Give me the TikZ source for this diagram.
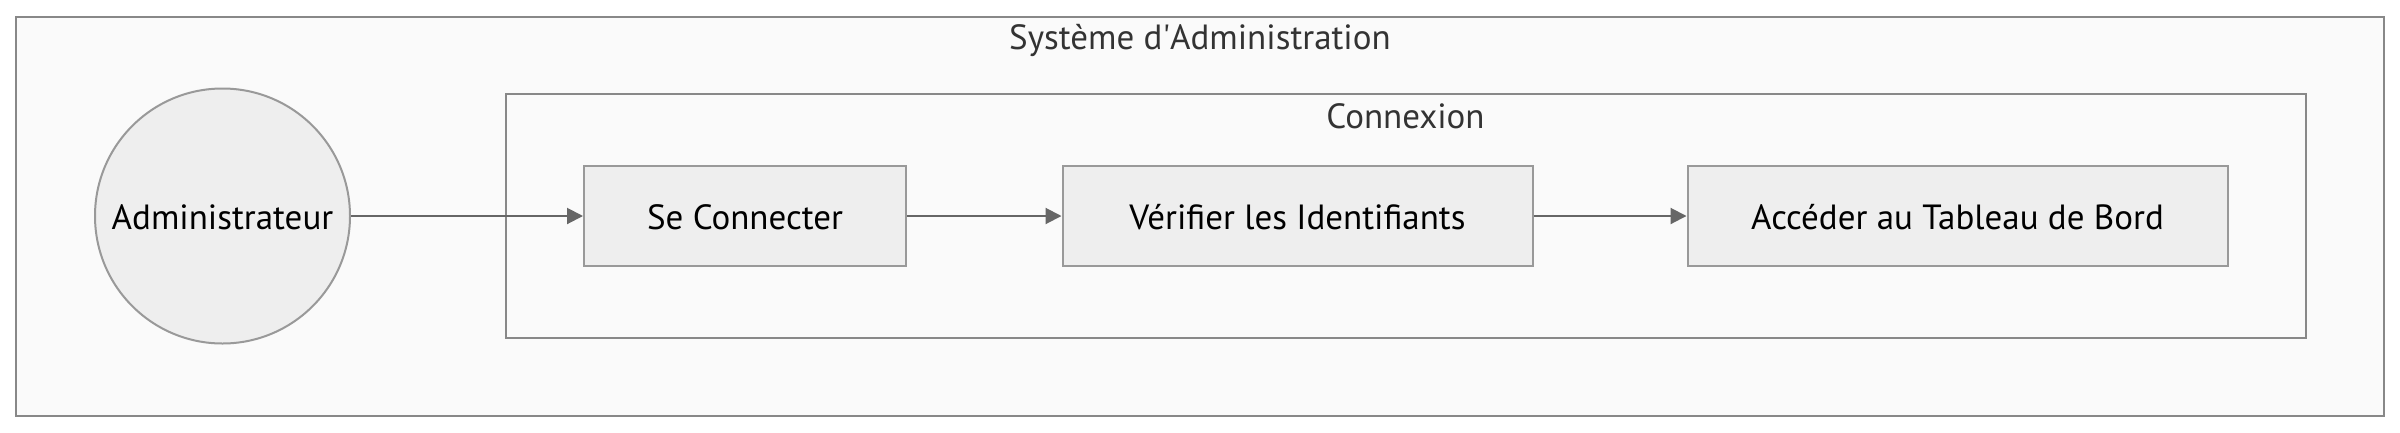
\documentclass[tikz,border=0pt]{standalone}
\usepackage{fontspec}
\setmainfont{PT Sans}
\usetikzlibrary{arrows.meta,shapes.geometric}
\definecolor{clfill}{HTML}{FAFAFA}
\definecolor{clstroke}{HTML}{888888}
\definecolor{ndfill}{HTML}{EEEEEE}
\definecolor{ndstroke}{HTML}{999999}
\definecolor{edge}{HTML}{666666}
\definecolor{ttl}{HTML}{333333}
\tikzset{
  txt/.style={font=\fontsize{35}{42}\selectfont},
  cluster/.style={draw=clstroke, fill=clfill, line width=2pt, rectangle, inner sep=0pt},
  clustertitle/.style={txt, text=ttl, inner sep=0pt, anchor=base},
  stepbox/.style={txt, draw=ndstroke, fill=ndfill, line width=2pt, rectangle, inner sep=0pt,
    minimum height=100pt, text height=26pt, text depth=0pt},
  actor/.style={txt, draw=ndstroke, fill=ndfill, line width=2pt, circle, inner sep=0pt,
    minimum size=255pt, text height=26pt, text depth=0pt},
  flow/.style={draw=edge, line width=2pt, -{Triangle[length=16pt,width=16pt]}},
}
\begin{document}
\begin{tikzpicture}[x=1pt,y=-1pt]
\useasboundingbox[fill=white] (0,0) rectangle (2400,432);
\node[cluster, minimum width=2368pt, minimum height=399pt] (sys) at (1200,216) {};
\node[clustertitle] (systitle) at (1200,49) {Système d\textquotesingle Administration};
\node[cluster, minimum width=1800pt, minimum height=244pt] (cnx) at (1406,216) {};
\node[clustertitle] (cnxtitle) at (1405.5,128) {Connexion};
\node[actor] (admin) at (222.5,216) {Administrateur};
\node[stepbox, minimum width=322pt] (login) at (745,216) {Se Connecter};
\node[stepbox, minimum width=470pt] (verif) at (1297.5,216) {Vérifier les Identifiants};
\node[stepbox, minimum width=540pt] (dash) at (1957.5,216) {Accéder au Tableau de Bord};
\draw[flow] (admin) -- (login);
\draw[flow] (login) -- (verif);
\draw[flow] (verif) -- (dash);
\end{tikzpicture}
\end{document}
